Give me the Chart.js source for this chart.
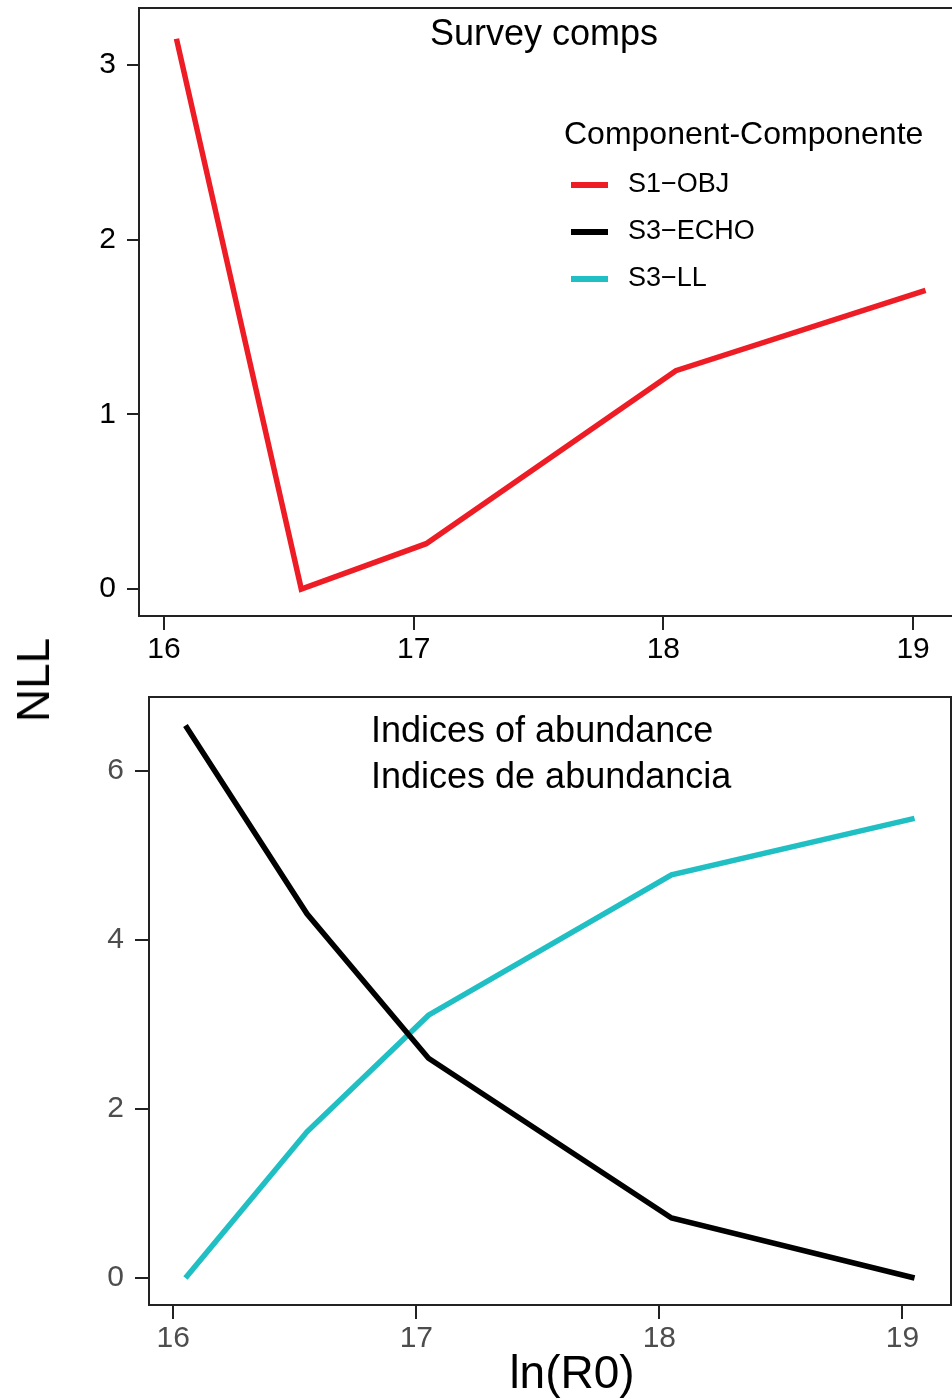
<!DOCTYPE html>
<html>
<head>
<meta charset="utf-8">
<title>Survey comps / Indices of abundance</title>
<script src="https://cdn.jsdelivr.net/npm/chart.js@4.4.1/dist/chart.umd.min.js"></script>
<style>
  body { margin: 0; background: #fff; overflow: hidden; }
  #page { position: relative; width: 952px; height: 1399px; overflow: hidden; font-family: "Liberation Sans", Arial, sans-serif; }
  .panel { position: absolute; left: 0; }
  #topPanel { top: 0; }
  #bottomPanel { top: 680px; }
  .axisTitle { position: absolute; font-size: 46px; color: #000; white-space: nowrap; line-height: 1; }
  #yTitle { left: 33px; top: 680px; transform: translate(-50%, -50%) rotate(-90deg); }
  #xTitle { left: 572px; top: 1372px; transform: translate(-50%, -50%); }
</style>
</head>
<body>
<div id="page">
  <div class="panel" id="topPanel"><canvas id="surveyChart" width="980" height="680"></canvas></div>
  <div class="panel" id="bottomPanel"><canvas id="indexChart" width="980" height="719"></canvas></div>
  <div class="axisTitle" id="yTitle">NLL</div>
  <div class="axisTitle" id="xTitle">ln(R0)</div>
</div>
<script>
// ln(R0) profile values
const lnR0 = [16.05, 16.55, 17.05, 18.05, 19.05];
const s1Obj = [3.15, 0, 0.26, 1.25, 1.71];
const s3Echo = [6.54, 4.31, 2.60, 0.71, 0];
const s3LL = [0, 1.73, 3.11, 4.77, 5.44];

const xTicks = [16, 17, 18, 19];
const topYTicks = [0, 1, 2, 3];
const bottomYTicks = [0, 2, 4, 6];

const legendTitle = "Component-Componente";
const legendLabels = ["S1\u2212OBJ", "S3\u2212ECHO", "S3\u2212LL"];
const legendColors = ["#ee1c25", "#000000", "#1fbfc3"];

const FONT = "'Liberation Sans', Arial, sans-serif";

const toPoints = (vals) => lnR0.map((x, i) => ({ x: x, y: vals[i] }));

// full box round the plot area, like base R's box()
const boxPlugin = {
  id: "box",
  afterDraw(chart) {
    const { ctx, chartArea: a } = chart;
    ctx.save();
    ctx.strokeStyle = "#222";
    ctx.lineWidth = 2;
    ctx.strokeRect(a.left, a.top, a.right - a.left, a.bottom - a.top);
    ctx.restore();
  }
};

// text inside the plot area (panel titles, legend)
const notesPlugin = {
  id: "notes",
  afterDraw(chart, args, opts) {
    const { ctx, chartArea: a } = chart;
    ctx.save();
    ctx.fillStyle = "#000";
    ctx.textBaseline = "middle";
    if (opts.title) {
      ctx.font = "36px " + FONT;
      ctx.textAlign = opts.titleAlign || "center";
      opts.title.forEach((line, i) => {
        ctx.fillText(line, a.left + opts.titleX, a.top + opts.titleY + i * 46);
      });
    }
    if (opts.legend) {
      const lx = a.left + 425, ly = a.top + 127;
      ctx.textAlign = "left";
      ctx.font = "32px " + FONT;
      ctx.fillText(legendTitle, lx, ly);
      ctx.font = "27px " + FONT;
      legendLabels.forEach((lab, i) => {
        const y = ly + 50 + i * 47;
        ctx.strokeStyle = legendColors[i];
        ctx.lineWidth = 6;
        ctx.beginPath();
        ctx.moveTo(lx + 7, y);
        ctx.lineTo(lx + 44, y);
        ctx.stroke();
        ctx.fillText(lab, lx + 64, y);
      });
    }
    ctx.restore();
  }
};

const makeScales = (yMin, yMax, yTicks, tickColor, yWidth, xHeight, yTickLen) => ({
  x: {
    type: "linear",
    min: 15.9,
    max: 19.2,
    afterBuildTicks: (s) => { s.ticks = xTicks.map(v => ({ value: v })); },
    afterFit: (s) => { s.height = xHeight; s.paddingLeft = 0; s.paddingRight = 0; },
    border: { display: false },
    grid: { display: true, drawOnChartArea: false, drawTicks: true, tickLength: 14, color: "#222", lineWidth: 2 },
    ticks: { color: tickColor, padding: 2, maxRotation: 0, autoSkip: false, font: { family: FONT, size: 30 } }
  },
  y: {
    type: "linear",
    min: yMin,
    max: yMax,
    afterBuildTicks: (s) => { s.ticks = yTicks.map(v => ({ value: v })); },
    afterFit: (s) => { s.width = yWidth; s.paddingTop = 0; s.paddingBottom = 0; },
    border: { display: false },
    grid: { display: true, drawOnChartArea: false, drawTicks: true, tickLength: yTickLen, color: "#222", lineWidth: 2 },
    ticks: { color: tickColor, padding: 11, font: { family: FONT, size: 30 } }
  }
});

const lineStyle = { borderWidth: 5.5, pointRadius: 0, tension: 0, fill: false };

new Chart(document.getElementById("surveyChart"), {
  type: "line",
  data: {
    datasets: [
      Object.assign({ label: legendLabels[0], data: toPoints(s1Obj), borderColor: legendColors[0] }, lineStyle)
    ]
  },
  options: {
    responsive: false,
    animation: false,
    layout: { padding: { left: 0, top: 8, right: 17, bottom: 0 } },
    scales: makeScales(-0.154, 3.326, topYTicks, "#000", 139, 64, 12),
    plugins: {
      legend: { display: false },
      tooltip: { enabled: false },
      notes: { title: ["Survey comps"], titleX: 405, titleY: 27, legend: true }
    }
  },
  plugins: [boxPlugin, notesPlugin]
});

new Chart(document.getElementById("indexChart"), {
  type: "line",
  data: {
    datasets: [
      Object.assign({ label: legendLabels[1], data: toPoints(s3Echo), borderColor: legendColors[1] }, lineStyle),
      Object.assign({ label: legendLabels[2], data: toPoints(s3LL), borderColor: legendColors[2] }, lineStyle)
    ]
  },
  options: {
    responsive: false,
    animation: false,
    layout: { padding: { left: 0, top: 17, right: 29, bottom: 0 } },
    scales: makeScales(-0.32, 6.876, bottomYTicks, "#4d4d4d", 149, 94, 14),
    plugins: {
      legend: { display: false },
      tooltip: { enabled: false },
      notes: { title: ["Indices of abundance", "Indices de abundancia"], titleX: 222, titleY: 35, titleAlign: "left" }
    }
  },
  plugins: [boxPlugin, notesPlugin]
});
</script>
</body>
</html>
